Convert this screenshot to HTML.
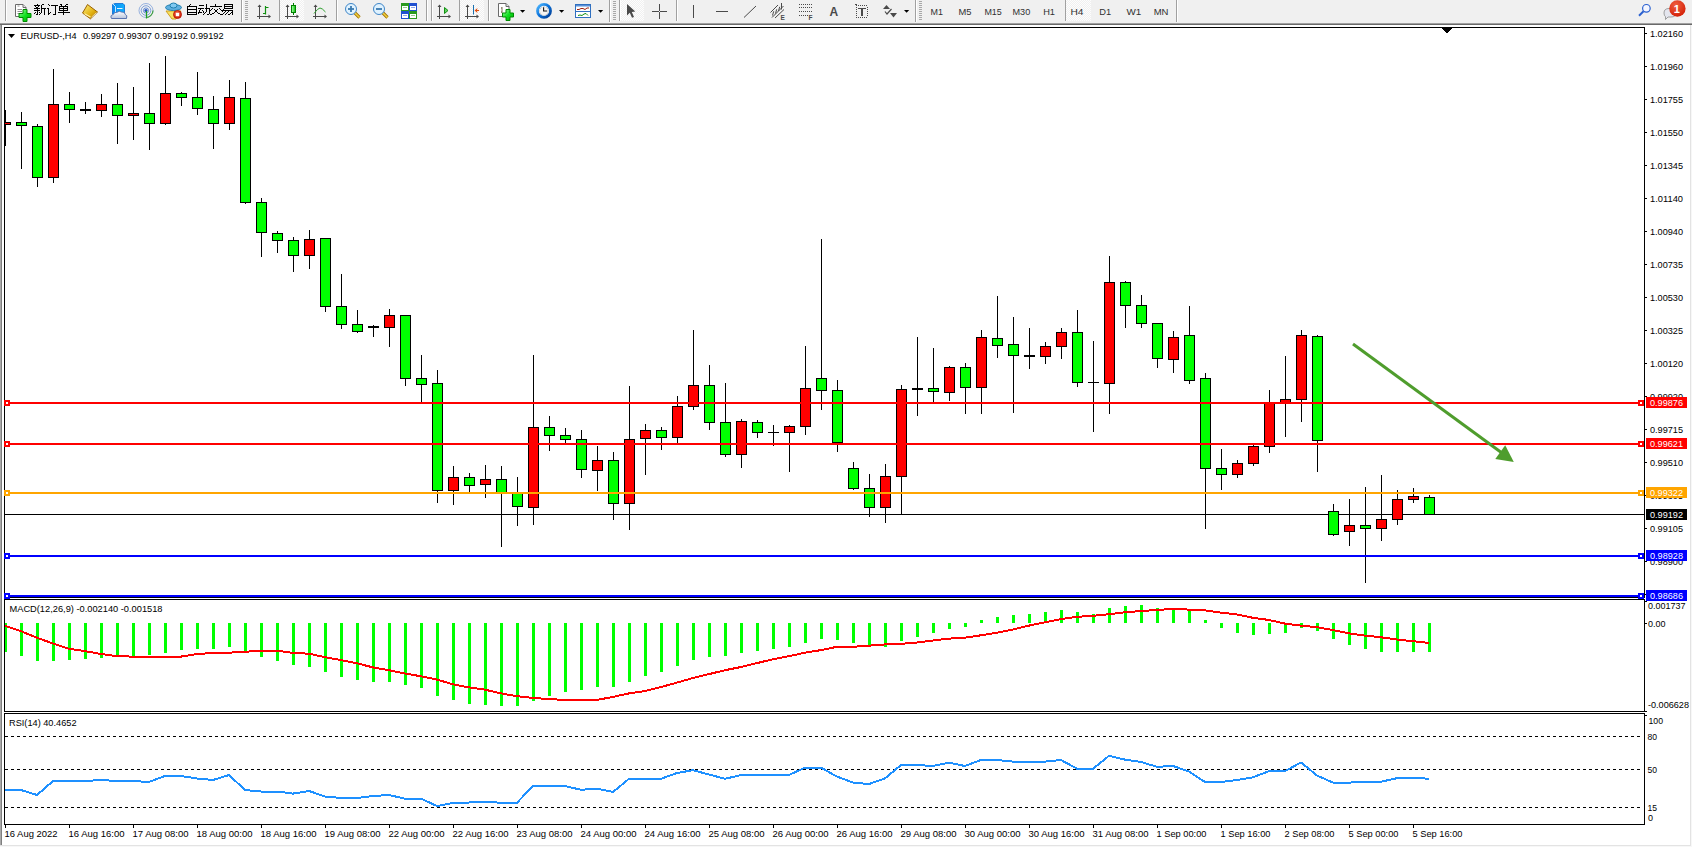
<!DOCTYPE html>
<html><head><meta charset="utf-8"><style>
html,body{margin:0;padding:0;background:#fff;width:1692px;height:847px;overflow:hidden}
svg{display:block}
text{font-family:"Liberation Sans",sans-serif}
</style></head><body>
<svg width="1692" height="847" viewBox="0 0 1692 847" shape-rendering="crispEdges">
<rect x="0" y="0" width="1692" height="23" fill="#f0f0f0"/>
<rect x="0" y="23" width="1692" height="1" fill="#a0a0a0"/>
<rect x="0" y="24" width="1692" height="1" fill="#696969"/>
<rect x="1645" y="33" width="2" height="1" fill="#000"/>
<text x="1650" y="37" font-size="9.9" fill="#000" textLength="33" lengthAdjust="spacingAndGlyphs">1.02160</text>
<rect x="1645" y="66" width="2" height="1" fill="#000"/>
<text x="1650" y="70" font-size="9.9" fill="#000" textLength="33" lengthAdjust="spacingAndGlyphs">1.01960</text>
<rect x="1645" y="99" width="2" height="1" fill="#000"/>
<text x="1650" y="103" font-size="9.9" fill="#000" textLength="33" lengthAdjust="spacingAndGlyphs">1.01755</text>
<rect x="1645" y="132" width="2" height="1" fill="#000"/>
<text x="1650" y="136" font-size="9.9" fill="#000" textLength="33" lengthAdjust="spacingAndGlyphs">1.01550</text>
<rect x="1645" y="165" width="2" height="1" fill="#000"/>
<text x="1650" y="169" font-size="9.9" fill="#000" textLength="33" lengthAdjust="spacingAndGlyphs">1.01345</text>
<rect x="1645" y="198" width="2" height="1" fill="#000"/>
<text x="1650" y="202" font-size="9.9" fill="#000" textLength="33" lengthAdjust="spacingAndGlyphs">1.01140</text>
<rect x="1645" y="231" width="2" height="1" fill="#000"/>
<text x="1650" y="235" font-size="9.9" fill="#000" textLength="33" lengthAdjust="spacingAndGlyphs">1.00940</text>
<rect x="1645" y="264" width="2" height="1" fill="#000"/>
<text x="1650" y="268" font-size="9.9" fill="#000" textLength="33" lengthAdjust="spacingAndGlyphs">1.00735</text>
<rect x="1645" y="297" width="2" height="1" fill="#000"/>
<text x="1650" y="301" font-size="9.9" fill="#000" textLength="33" lengthAdjust="spacingAndGlyphs">1.00530</text>
<rect x="1645" y="330" width="2" height="1" fill="#000"/>
<text x="1650" y="334" font-size="9.9" fill="#000" textLength="33" lengthAdjust="spacingAndGlyphs">1.00325</text>
<rect x="1645" y="363" width="2" height="1" fill="#000"/>
<text x="1650" y="367" font-size="9.9" fill="#000" textLength="33" lengthAdjust="spacingAndGlyphs">1.00120</text>
<rect x="1645" y="396" width="2" height="1" fill="#000"/>
<text x="1650" y="400" font-size="9.9" fill="#000" textLength="33" lengthAdjust="spacingAndGlyphs">0.99920</text>
<rect x="1645" y="429" width="2" height="1" fill="#000"/>
<text x="1650" y="433" font-size="9.9" fill="#000" textLength="33" lengthAdjust="spacingAndGlyphs">0.99715</text>
<rect x="1645" y="462" width="2" height="1" fill="#000"/>
<text x="1650" y="466" font-size="9.9" fill="#000" textLength="33" lengthAdjust="spacingAndGlyphs">0.99510</text>
<rect x="1645" y="495" width="2" height="1" fill="#000"/>
<text x="1650" y="499" font-size="9.9" fill="#000" textLength="33" lengthAdjust="spacingAndGlyphs">0.99305</text>
<rect x="1645" y="528" width="2" height="1" fill="#000"/>
<text x="1650" y="532" font-size="9.9" fill="#000" textLength="33" lengthAdjust="spacingAndGlyphs">0.99105</text>
<rect x="1645" y="561" width="2" height="1" fill="#000"/>
<text x="1650" y="565" font-size="9.9" fill="#000" textLength="33" lengthAdjust="spacingAndGlyphs">0.98900</text>
<rect x="1645" y="594" width="2" height="1" fill="#000"/>
<text x="1650" y="598" font-size="9.9" fill="#000" textLength="33" lengthAdjust="spacingAndGlyphs">0.98695</text>
<rect x="5" y="514" width="1639" height="1" fill="#000"/>
<g>
<rect x="5" y="110" width="1" height="36" fill="#000"/>
<rect x="0" y="122" width="11" height="3" fill="#000"/>
<rect x="1" y="123" width="9" height="1" fill="#ff0000"/>
<rect x="21" y="112" width="1" height="57" fill="#000"/>
<rect x="16" y="122" width="11" height="4" fill="#000"/>
<rect x="17" y="123" width="9" height="2" fill="#00ff00"/>
<rect x="37" y="124" width="1" height="63" fill="#000"/>
<rect x="32" y="126" width="11" height="52" fill="#000"/>
<rect x="33" y="127" width="9" height="50" fill="#00ff00"/>
<rect x="53" y="69" width="1" height="114" fill="#000"/>
<rect x="48" y="104" width="11" height="74" fill="#000"/>
<rect x="49" y="105" width="9" height="72" fill="#ff0000"/>
<rect x="69" y="92" width="1" height="31" fill="#000"/>
<rect x="64" y="104" width="11" height="6" fill="#000"/>
<rect x="65" y="105" width="9" height="4" fill="#00ff00"/>
<rect x="85" y="102" width="1" height="12" fill="#000"/>
<rect x="80" y="109" width="11" height="2" fill="#000"/>
<rect x="101" y="94" width="1" height="23" fill="#000"/>
<rect x="96" y="104" width="11" height="7" fill="#000"/>
<rect x="97" y="105" width="9" height="5" fill="#ff0000"/>
<rect x="117" y="83" width="1" height="61" fill="#000"/>
<rect x="112" y="104" width="11" height="12" fill="#000"/>
<rect x="113" y="105" width="9" height="10" fill="#00ff00"/>
<rect x="133" y="87" width="1" height="53" fill="#000"/>
<rect x="128" y="113" width="11" height="3" fill="#000"/>
<rect x="129" y="114" width="9" height="1" fill="#ff0000"/>
<rect x="149" y="63" width="1" height="87" fill="#000"/>
<rect x="144" y="113" width="11" height="11" fill="#000"/>
<rect x="145" y="114" width="9" height="9" fill="#00ff00"/>
<rect x="165" y="56" width="1" height="69" fill="#000"/>
<rect x="160" y="93" width="11" height="31" fill="#000"/>
<rect x="161" y="94" width="9" height="29" fill="#ff0000"/>
<rect x="181" y="92" width="1" height="14" fill="#000"/>
<rect x="176" y="93" width="11" height="5" fill="#000"/>
<rect x="177" y="94" width="9" height="3" fill="#00ff00"/>
<rect x="197" y="72" width="1" height="43" fill="#000"/>
<rect x="192" y="97" width="11" height="12" fill="#000"/>
<rect x="193" y="98" width="9" height="10" fill="#00ff00"/>
<rect x="213" y="96" width="1" height="53" fill="#000"/>
<rect x="208" y="109" width="11" height="15" fill="#000"/>
<rect x="209" y="110" width="9" height="13" fill="#00ff00"/>
<rect x="229" y="80" width="1" height="50" fill="#000"/>
<rect x="224" y="97" width="11" height="27" fill="#000"/>
<rect x="225" y="98" width="9" height="25" fill="#ff0000"/>
<rect x="245" y="82" width="1" height="122" fill="#000"/>
<rect x="240" y="98" width="11" height="105" fill="#000"/>
<rect x="241" y="99" width="9" height="103" fill="#00ff00"/>
<rect x="261" y="198" width="1" height="59" fill="#000"/>
<rect x="256" y="202" width="11" height="31" fill="#000"/>
<rect x="257" y="203" width="9" height="29" fill="#00ff00"/>
<rect x="277" y="231" width="1" height="22" fill="#000"/>
<rect x="272" y="233" width="11" height="8" fill="#000"/>
<rect x="273" y="234" width="9" height="6" fill="#00ff00"/>
<rect x="293" y="237" width="1" height="35" fill="#000"/>
<rect x="288" y="240" width="11" height="16" fill="#000"/>
<rect x="289" y="241" width="9" height="14" fill="#00ff00"/>
<rect x="309" y="230" width="1" height="39" fill="#000"/>
<rect x="304" y="239" width="11" height="17" fill="#000"/>
<rect x="305" y="240" width="9" height="15" fill="#ff0000"/>
<rect x="325" y="238" width="1" height="74" fill="#000"/>
<rect x="320" y="238" width="11" height="69" fill="#000"/>
<rect x="321" y="239" width="9" height="67" fill="#00ff00"/>
<rect x="341" y="274" width="1" height="55" fill="#000"/>
<rect x="336" y="306" width="11" height="19" fill="#000"/>
<rect x="337" y="307" width="9" height="17" fill="#00ff00"/>
<rect x="357" y="310" width="1" height="23" fill="#000"/>
<rect x="352" y="324" width="11" height="8" fill="#000"/>
<rect x="353" y="325" width="9" height="6" fill="#00ff00"/>
<rect x="373" y="325" width="1" height="12" fill="#000"/>
<rect x="368" y="326" width="11" height="2" fill="#000"/>
<rect x="389" y="309" width="1" height="38" fill="#000"/>
<rect x="384" y="315" width="11" height="13" fill="#000"/>
<rect x="385" y="316" width="9" height="11" fill="#ff0000"/>
<rect x="405" y="315" width="1" height="71" fill="#000"/>
<rect x="400" y="315" width="11" height="64" fill="#000"/>
<rect x="401" y="316" width="9" height="62" fill="#00ff00"/>
<rect x="421" y="355" width="1" height="47" fill="#000"/>
<rect x="416" y="378" width="11" height="7" fill="#000"/>
<rect x="417" y="379" width="9" height="5" fill="#00ff00"/>
<rect x="437" y="370" width="1" height="133" fill="#000"/>
<rect x="432" y="383" width="11" height="108" fill="#000"/>
<rect x="433" y="384" width="9" height="106" fill="#00ff00"/>
<rect x="453" y="466" width="1" height="39" fill="#000"/>
<rect x="448" y="477" width="11" height="14" fill="#000"/>
<rect x="449" y="478" width="9" height="12" fill="#ff0000"/>
<rect x="469" y="473" width="1" height="19" fill="#000"/>
<rect x="464" y="477" width="11" height="9" fill="#000"/>
<rect x="465" y="478" width="9" height="7" fill="#00ff00"/>
<rect x="485" y="465" width="1" height="33" fill="#000"/>
<rect x="480" y="479" width="11" height="6" fill="#000"/>
<rect x="481" y="480" width="9" height="4" fill="#ff0000"/>
<rect x="501" y="466" width="1" height="81" fill="#000"/>
<rect x="496" y="479" width="11" height="14" fill="#000"/>
<rect x="497" y="480" width="9" height="12" fill="#00ff00"/>
<rect x="517" y="477" width="1" height="49" fill="#000"/>
<rect x="512" y="493" width="11" height="14" fill="#000"/>
<rect x="513" y="494" width="9" height="12" fill="#00ff00"/>
<rect x="533" y="355" width="1" height="170" fill="#000"/>
<rect x="528" y="427" width="11" height="81" fill="#000"/>
<rect x="529" y="428" width="9" height="79" fill="#ff0000"/>
<rect x="549" y="416" width="1" height="35" fill="#000"/>
<rect x="544" y="427" width="11" height="9" fill="#000"/>
<rect x="545" y="428" width="9" height="7" fill="#00ff00"/>
<rect x="565" y="428" width="1" height="15" fill="#000"/>
<rect x="560" y="435" width="11" height="5" fill="#000"/>
<rect x="561" y="436" width="9" height="3" fill="#00ff00"/>
<rect x="581" y="430" width="1" height="48" fill="#000"/>
<rect x="576" y="439" width="11" height="31" fill="#000"/>
<rect x="577" y="440" width="9" height="29" fill="#00ff00"/>
<rect x="597" y="446" width="1" height="45" fill="#000"/>
<rect x="592" y="460" width="11" height="11" fill="#000"/>
<rect x="593" y="461" width="9" height="9" fill="#ff0000"/>
<rect x="613" y="452" width="1" height="68" fill="#000"/>
<rect x="608" y="460" width="11" height="44" fill="#000"/>
<rect x="609" y="461" width="9" height="42" fill="#00ff00"/>
<rect x="629" y="386" width="1" height="144" fill="#000"/>
<rect x="624" y="439" width="11" height="65" fill="#000"/>
<rect x="625" y="440" width="9" height="63" fill="#ff0000"/>
<rect x="645" y="424" width="1" height="51" fill="#000"/>
<rect x="640" y="430" width="11" height="9" fill="#000"/>
<rect x="641" y="431" width="9" height="7" fill="#ff0000"/>
<rect x="661" y="427" width="1" height="23" fill="#000"/>
<rect x="656" y="430" width="11" height="8" fill="#000"/>
<rect x="657" y="431" width="9" height="6" fill="#00ff00"/>
<rect x="677" y="396" width="1" height="47" fill="#000"/>
<rect x="672" y="406" width="11" height="32" fill="#000"/>
<rect x="673" y="407" width="9" height="30" fill="#ff0000"/>
<rect x="693" y="330" width="1" height="80" fill="#000"/>
<rect x="688" y="385" width="11" height="22" fill="#000"/>
<rect x="689" y="386" width="9" height="20" fill="#ff0000"/>
<rect x="709" y="365" width="1" height="65" fill="#000"/>
<rect x="704" y="385" width="11" height="38" fill="#000"/>
<rect x="705" y="386" width="9" height="36" fill="#00ff00"/>
<rect x="725" y="383" width="1" height="74" fill="#000"/>
<rect x="720" y="422" width="11" height="33" fill="#000"/>
<rect x="721" y="423" width="9" height="31" fill="#00ff00"/>
<rect x="741" y="419" width="1" height="49" fill="#000"/>
<rect x="736" y="421" width="11" height="34" fill="#000"/>
<rect x="737" y="422" width="9" height="32" fill="#ff0000"/>
<rect x="757" y="420" width="1" height="18" fill="#000"/>
<rect x="752" y="422" width="11" height="11" fill="#000"/>
<rect x="753" y="423" width="9" height="9" fill="#00ff00"/>
<rect x="773" y="425" width="1" height="21" fill="#000"/>
<rect x="768" y="432" width="11" height="1" fill="#000"/>
<rect x="789" y="425" width="1" height="47" fill="#000"/>
<rect x="784" y="426" width="11" height="7" fill="#000"/>
<rect x="785" y="427" width="9" height="5" fill="#ff0000"/>
<rect x="805" y="346" width="1" height="89" fill="#000"/>
<rect x="800" y="388" width="11" height="39" fill="#000"/>
<rect x="801" y="389" width="9" height="37" fill="#ff0000"/>
<rect x="821" y="239" width="1" height="171" fill="#000"/>
<rect x="816" y="378" width="11" height="13" fill="#000"/>
<rect x="817" y="379" width="9" height="11" fill="#00ff00"/>
<rect x="837" y="380" width="1" height="72" fill="#000"/>
<rect x="832" y="390" width="11" height="53" fill="#000"/>
<rect x="833" y="391" width="9" height="51" fill="#00ff00"/>
<rect x="853" y="462" width="1" height="28" fill="#000"/>
<rect x="848" y="468" width="11" height="21" fill="#000"/>
<rect x="849" y="469" width="9" height="19" fill="#00ff00"/>
<rect x="869" y="474" width="1" height="43" fill="#000"/>
<rect x="864" y="488" width="11" height="20" fill="#000"/>
<rect x="865" y="489" width="9" height="18" fill="#00ff00"/>
<rect x="885" y="464" width="1" height="59" fill="#000"/>
<rect x="880" y="476" width="11" height="32" fill="#000"/>
<rect x="881" y="477" width="9" height="30" fill="#ff0000"/>
<rect x="901" y="385" width="1" height="129" fill="#000"/>
<rect x="896" y="389" width="11" height="88" fill="#000"/>
<rect x="897" y="390" width="9" height="86" fill="#ff0000"/>
<rect x="917" y="337" width="1" height="79" fill="#000"/>
<rect x="912" y="388" width="11" height="2" fill="#000"/>
<rect x="933" y="348" width="1" height="54" fill="#000"/>
<rect x="928" y="388" width="11" height="4" fill="#000"/>
<rect x="929" y="389" width="9" height="2" fill="#00ff00"/>
<rect x="949" y="366" width="1" height="35" fill="#000"/>
<rect x="944" y="367" width="11" height="26" fill="#000"/>
<rect x="945" y="368" width="9" height="24" fill="#ff0000"/>
<rect x="965" y="363" width="1" height="51" fill="#000"/>
<rect x="960" y="367" width="11" height="21" fill="#000"/>
<rect x="961" y="368" width="9" height="19" fill="#00ff00"/>
<rect x="981" y="330" width="1" height="84" fill="#000"/>
<rect x="976" y="337" width="11" height="51" fill="#000"/>
<rect x="977" y="338" width="9" height="49" fill="#ff0000"/>
<rect x="997" y="296" width="1" height="62" fill="#000"/>
<rect x="992" y="338" width="11" height="8" fill="#000"/>
<rect x="993" y="339" width="9" height="6" fill="#00ff00"/>
<rect x="1013" y="317" width="1" height="96" fill="#000"/>
<rect x="1008" y="344" width="11" height="12" fill="#000"/>
<rect x="1009" y="345" width="9" height="10" fill="#00ff00"/>
<rect x="1029" y="328" width="1" height="41" fill="#000"/>
<rect x="1024" y="355" width="11" height="2" fill="#000"/>
<rect x="1045" y="342" width="1" height="22" fill="#000"/>
<rect x="1040" y="346" width="11" height="11" fill="#000"/>
<rect x="1041" y="347" width="9" height="9" fill="#ff0000"/>
<rect x="1061" y="328" width="1" height="31" fill="#000"/>
<rect x="1056" y="332" width="11" height="15" fill="#000"/>
<rect x="1057" y="333" width="9" height="13" fill="#ff0000"/>
<rect x="1077" y="310" width="1" height="77" fill="#000"/>
<rect x="1072" y="332" width="11" height="51" fill="#000"/>
<rect x="1073" y="333" width="9" height="49" fill="#00ff00"/>
<rect x="1093" y="341" width="1" height="91" fill="#000"/>
<rect x="1088" y="382" width="11" height="1" fill="#000"/>
<rect x="1109" y="256" width="1" height="158" fill="#000"/>
<rect x="1104" y="282" width="11" height="102" fill="#000"/>
<rect x="1105" y="283" width="9" height="100" fill="#ff0000"/>
<rect x="1125" y="281" width="1" height="47" fill="#000"/>
<rect x="1120" y="282" width="11" height="24" fill="#000"/>
<rect x="1121" y="283" width="9" height="22" fill="#00ff00"/>
<rect x="1141" y="295" width="1" height="33" fill="#000"/>
<rect x="1136" y="305" width="11" height="19" fill="#000"/>
<rect x="1137" y="306" width="9" height="17" fill="#00ff00"/>
<rect x="1157" y="323" width="1" height="45" fill="#000"/>
<rect x="1152" y="323" width="11" height="36" fill="#000"/>
<rect x="1153" y="324" width="9" height="34" fill="#00ff00"/>
<rect x="1173" y="331" width="1" height="42" fill="#000"/>
<rect x="1168" y="337" width="11" height="23" fill="#000"/>
<rect x="1169" y="338" width="9" height="21" fill="#ff0000"/>
<rect x="1189" y="306" width="1" height="78" fill="#000"/>
<rect x="1184" y="335" width="11" height="46" fill="#000"/>
<rect x="1185" y="336" width="9" height="44" fill="#00ff00"/>
<rect x="1205" y="373" width="1" height="156" fill="#000"/>
<rect x="1200" y="378" width="11" height="91" fill="#000"/>
<rect x="1201" y="379" width="9" height="89" fill="#00ff00"/>
<rect x="1221" y="449" width="1" height="41" fill="#000"/>
<rect x="1216" y="468" width="11" height="7" fill="#000"/>
<rect x="1217" y="469" width="9" height="5" fill="#00ff00"/>
<rect x="1237" y="460" width="1" height="18" fill="#000"/>
<rect x="1232" y="463" width="11" height="12" fill="#000"/>
<rect x="1233" y="464" width="9" height="10" fill="#ff0000"/>
<rect x="1253" y="445" width="1" height="21" fill="#000"/>
<rect x="1248" y="446" width="11" height="18" fill="#000"/>
<rect x="1249" y="447" width="9" height="16" fill="#ff0000"/>
<rect x="1269" y="390" width="1" height="63" fill="#000"/>
<rect x="1264" y="403" width="11" height="44" fill="#000"/>
<rect x="1265" y="404" width="9" height="42" fill="#ff0000"/>
<rect x="1285" y="356" width="1" height="81" fill="#000"/>
<rect x="1280" y="399" width="11" height="4" fill="#000"/>
<rect x="1281" y="400" width="9" height="2" fill="#ff0000"/>
<rect x="1301" y="330" width="1" height="92" fill="#000"/>
<rect x="1296" y="335" width="11" height="65" fill="#000"/>
<rect x="1297" y="336" width="9" height="63" fill="#ff0000"/>
<rect x="1317" y="335" width="1" height="137" fill="#000"/>
<rect x="1312" y="336" width="11" height="105" fill="#000"/>
<rect x="1313" y="337" width="9" height="103" fill="#00ff00"/>
<rect x="1333" y="504" width="1" height="32" fill="#000"/>
<rect x="1328" y="511" width="11" height="24" fill="#000"/>
<rect x="1329" y="512" width="9" height="22" fill="#00ff00"/>
<rect x="1349" y="499" width="1" height="47" fill="#000"/>
<rect x="1344" y="525" width="11" height="7" fill="#000"/>
<rect x="1345" y="526" width="9" height="5" fill="#ff0000"/>
<rect x="1365" y="487" width="1" height="96" fill="#000"/>
<rect x="1360" y="525" width="11" height="4" fill="#000"/>
<rect x="1361" y="526" width="9" height="2" fill="#00ff00"/>
<rect x="1381" y="475" width="1" height="66" fill="#000"/>
<rect x="1376" y="519" width="11" height="10" fill="#000"/>
<rect x="1377" y="520" width="9" height="8" fill="#ff0000"/>
<rect x="1397" y="490" width="1" height="35" fill="#000"/>
<rect x="1392" y="499" width="11" height="21" fill="#000"/>
<rect x="1393" y="500" width="9" height="19" fill="#ff0000"/>
<rect x="1413" y="488" width="1" height="15" fill="#000"/>
<rect x="1408" y="496" width="11" height="4" fill="#000"/>
<rect x="1409" y="497" width="9" height="2" fill="#ff0000"/>
<rect x="1429" y="495" width="1" height="19" fill="#000"/>
<rect x="1424" y="497" width="11" height="18" fill="#000"/>
<rect x="1425" y="498" width="9" height="16" fill="#00ff00"/>
</g>
<rect x="4" y="623" width="3" height="29" fill="#00ff00"/>
<rect x="20" y="623" width="3" height="33" fill="#00ff00"/>
<rect x="36" y="623" width="3" height="38" fill="#00ff00"/>
<rect x="52" y="623" width="3" height="38" fill="#00ff00"/>
<rect x="68" y="623" width="3" height="37" fill="#00ff00"/>
<rect x="84" y="623" width="3" height="36" fill="#00ff00"/>
<rect x="100" y="623" width="3" height="35" fill="#00ff00"/>
<rect x="116" y="623" width="3" height="33" fill="#00ff00"/>
<rect x="132" y="623" width="3" height="33" fill="#00ff00"/>
<rect x="148" y="623" width="3" height="32" fill="#00ff00"/>
<rect x="164" y="623" width="3" height="30" fill="#00ff00"/>
<rect x="180" y="623" width="3" height="27" fill="#00ff00"/>
<rect x="196" y="623" width="3" height="26" fill="#00ff00"/>
<rect x="212" y="623" width="3" height="26" fill="#00ff00"/>
<rect x="228" y="623" width="3" height="24" fill="#00ff00"/>
<rect x="244" y="623" width="3" height="28" fill="#00ff00"/>
<rect x="260" y="623" width="3" height="34" fill="#00ff00"/>
<rect x="276" y="623" width="3" height="38" fill="#00ff00"/>
<rect x="292" y="623" width="3" height="42" fill="#00ff00"/>
<rect x="308" y="623" width="3" height="44" fill="#00ff00"/>
<rect x="324" y="623" width="3" height="49" fill="#00ff00"/>
<rect x="340" y="623" width="3" height="54" fill="#00ff00"/>
<rect x="356" y="623" width="3" height="57" fill="#00ff00"/>
<rect x="372" y="623" width="3" height="59" fill="#00ff00"/>
<rect x="388" y="623" width="3" height="59" fill="#00ff00"/>
<rect x="404" y="623" width="3" height="62" fill="#00ff00"/>
<rect x="420" y="623" width="3" height="65" fill="#00ff00"/>
<rect x="436" y="623" width="3" height="73" fill="#00ff00"/>
<rect x="452" y="623" width="3" height="77" fill="#00ff00"/>
<rect x="468" y="623" width="3" height="81" fill="#00ff00"/>
<rect x="484" y="623" width="3" height="82" fill="#00ff00"/>
<rect x="500" y="623" width="3" height="83" fill="#00ff00"/>
<rect x="516" y="623" width="3" height="83" fill="#00ff00"/>
<rect x="532" y="623" width="3" height="78" fill="#00ff00"/>
<rect x="548" y="623" width="3" height="73" fill="#00ff00"/>
<rect x="564" y="623" width="3" height="69" fill="#00ff00"/>
<rect x="580" y="623" width="3" height="67" fill="#00ff00"/>
<rect x="596" y="623" width="3" height="64" fill="#00ff00"/>
<rect x="612" y="623" width="3" height="64" fill="#00ff00"/>
<rect x="628" y="623" width="3" height="59" fill="#00ff00"/>
<rect x="644" y="623" width="3" height="53" fill="#00ff00"/>
<rect x="660" y="623" width="3" height="49" fill="#00ff00"/>
<rect x="676" y="623" width="3" height="43" fill="#00ff00"/>
<rect x="692" y="623" width="3" height="37" fill="#00ff00"/>
<rect x="708" y="623" width="3" height="34" fill="#00ff00"/>
<rect x="724" y="623" width="3" height="33" fill="#00ff00"/>
<rect x="740" y="623" width="3" height="30" fill="#00ff00"/>
<rect x="756" y="623" width="3" height="28" fill="#00ff00"/>
<rect x="772" y="623" width="3" height="26" fill="#00ff00"/>
<rect x="788" y="623" width="3" height="24" fill="#00ff00"/>
<rect x="804" y="623" width="3" height="20" fill="#00ff00"/>
<rect x="820" y="623" width="3" height="16" fill="#00ff00"/>
<rect x="836" y="623" width="3" height="17" fill="#00ff00"/>
<rect x="852" y="623" width="3" height="20" fill="#00ff00"/>
<rect x="868" y="623" width="3" height="22" fill="#00ff00"/>
<rect x="884" y="623" width="3" height="24" fill="#00ff00"/>
<rect x="900" y="623" width="3" height="18" fill="#00ff00"/>
<rect x="916" y="623" width="3" height="14" fill="#00ff00"/>
<rect x="932" y="623" width="3" height="10" fill="#00ff00"/>
<rect x="948" y="623" width="3" height="6" fill="#00ff00"/>
<rect x="964" y="623" width="3" height="4" fill="#00ff00"/>
<rect x="980" y="620" width="3" height="3" fill="#00ff00"/>
<rect x="996" y="617" width="3" height="6" fill="#00ff00"/>
<rect x="1012" y="615" width="3" height="8" fill="#00ff00"/>
<rect x="1028" y="614" width="3" height="9" fill="#00ff00"/>
<rect x="1044" y="612" width="3" height="11" fill="#00ff00"/>
<rect x="1060" y="610" width="3" height="13" fill="#00ff00"/>
<rect x="1076" y="612" width="3" height="11" fill="#00ff00"/>
<rect x="1092" y="614" width="3" height="9" fill="#00ff00"/>
<rect x="1108" y="608" width="3" height="15" fill="#00ff00"/>
<rect x="1124" y="606" width="3" height="17" fill="#00ff00"/>
<rect x="1140" y="605" width="3" height="18" fill="#00ff00"/>
<rect x="1156" y="608" width="3" height="15" fill="#00ff00"/>
<rect x="1172" y="608" width="3" height="15" fill="#00ff00"/>
<rect x="1188" y="611" width="3" height="12" fill="#00ff00"/>
<rect x="1204" y="620" width="3" height="3" fill="#00ff00"/>
<rect x="1220" y="623" width="3" height="5" fill="#00ff00"/>
<rect x="1236" y="623" width="3" height="10" fill="#00ff00"/>
<rect x="1252" y="623" width="3" height="12" fill="#00ff00"/>
<rect x="1268" y="623" width="3" height="11" fill="#00ff00"/>
<rect x="1284" y="623" width="3" height="10" fill="#00ff00"/>
<rect x="1300" y="623" width="3" height="5" fill="#00ff00"/>
<rect x="1316" y="623" width="3" height="8" fill="#00ff00"/>
<rect x="1332" y="623" width="3" height="16" fill="#00ff00"/>
<rect x="1348" y="623" width="3" height="22" fill="#00ff00"/>
<rect x="1364" y="623" width="3" height="26" fill="#00ff00"/>
<rect x="1380" y="623" width="3" height="29" fill="#00ff00"/>
<rect x="1396" y="623" width="3" height="29" fill="#00ff00"/>
<rect x="1412" y="623" width="3" height="29" fill="#00ff00"/>
<rect x="1428" y="623" width="3" height="29" fill="#00ff00"/>
<polyline points="5,625.7 21,631.2 37,637.7 53,643.6 69,648.8 85,651.1 101,654 117,656.2 133,656.6 149,656.6 165,656.6 181,656.6 197,654 213,653 229,652.7 245,651.8 261,650.7 277,650.7 293,652.9 309,653.7 325,657.2 341,660.1 357,663.3 373,667.4 389,670.2 405,673.5 421,676.3 437,679.6 453,684.3 469,687.4 485,689.7 501,693.4 517,696.2 533,697.9 549,699.1 565,699.9 581,699.9 597,699.9 613,696.9 629,693.4 645,691 661,687.1 677,682.6 693,678 709,674.1 725,670.2 741,667 757,663.1 773,659.2 789,656.2 805,652.7 821,650.1 837,646.8 853,646.8 869,645.7 885,644.4 901,643.8 917,642.5 933,640.5 949,638.6 965,637.7 981,635.3 997,632.7 1013,629.5 1029,625.6 1045,622.3 1061,619.1 1077,616.8 1093,615.8 1109,614.2 1125,612.3 1141,611 1157,610 1173,608.9 1189,609.6 1205,610.3 1221,612.6 1237,614.5 1253,617.8 1269,620 1285,623.6 1301,625.6 1317,627.2 1333,630.1 1349,633.4 1365,635.6 1381,637.3 1397,639.5 1413,641.2 1429,642.9" fill="none" stroke="#ff0000" stroke-width="2" shape-rendering="crispEdges"/>
<text x="9.5" y="612" font-size="9.9" fill="#000" textLength="153" lengthAdjust="spacingAndGlyphs">MACD(12,26,9) -0.002140 -0.001518</text>
<rect x="1645" y="601" width="2" height="1" fill="#000"/>
<text x="1648" y="609.2" font-size="9.9" fill="#000" textLength="37.5" lengthAdjust="spacingAndGlyphs">0.001737</text>
<rect x="1645" y="623" width="2" height="1" fill="#000"/>
<text x="1648" y="626.7" font-size="9.9" fill="#000" textLength="17.5" lengthAdjust="spacingAndGlyphs">0.00</text>
<rect x="1645" y="711" width="2" height="1" fill="#000"/>
<text x="1648" y="708" font-size="9.9" fill="#000" textLength="41" lengthAdjust="spacingAndGlyphs">-0.006628</text>
<line x1="5" y1="736.5" x2="1643" y2="736.5" stroke="#000" stroke-width="1" stroke-dasharray="3,3" shape-rendering="crispEdges"/>
<line x1="5" y1="769.5" x2="1643" y2="769.5" stroke="#000" stroke-width="1" stroke-dasharray="3,3" shape-rendering="crispEdges"/>
<line x1="5" y1="807.5" x2="1643" y2="807.5" stroke="#000" stroke-width="1" stroke-dasharray="3,3" shape-rendering="crispEdges"/>
<polyline points="5,790 21,790 37,795 53,781 69,781 85,781 101,780 117,781 133,781 149,782 165,776 181,776 197,778.5 213,780 229,775 245,790 261,791.5 277,791.5 293,793.6 309,791 325,796.5 341,798 357,798 373,796 389,795 405,798.7 421,798.7 437,806 453,803 469,802.5 485,802 501,802.7 517,802.7 533,786 549,786 565,786 581,789.8 597,788.6 613,792 629,778.8 645,778.8 661,778.8 677,773 693,770.2 709,774.5 725,778.8 741,775 757,775 773,775 789,775 805,767.7 821,767.7 837,776.6 853,782.6 869,784 885,778.4 901,765 917,765 933,766 949,762.7 965,766 981,760 997,760 1013,761.6 1029,761.6 1045,761.6 1061,760 1077,768.7 1093,768.7 1109,755.8 1125,759.6 1141,762 1157,766.8 1173,766 1189,771.5 1205,782 1221,782 1237,780 1253,777.3 1269,771.1 1285,771.1 1301,762.4 1317,775.5 1333,782.6 1349,782.6 1365,781.7 1381,781.7 1397,778.2 1413,778 1429,778.7" fill="none" stroke="#1e90ff" stroke-width="2" shape-rendering="crispEdges"/>
<text x="9" y="726" font-size="9.9" fill="#000" textLength="67.5" lengthAdjust="spacingAndGlyphs">RSI(14) 40.4652</text>
<rect x="1645" y="715" width="2" height="1" fill="#000"/>
<text x="1648.5" y="724" font-size="9.9" fill="#000" textLength="14.5" lengthAdjust="spacingAndGlyphs">100</text>
<text x="1647.5" y="739.5" font-size="9.9" fill="#000" textLength="9.5" lengthAdjust="spacingAndGlyphs">80</text>
<text x="1647.5" y="772.5" font-size="9.9" fill="#000" textLength="9.5" lengthAdjust="spacingAndGlyphs">50</text>
<text x="1647.5" y="810.5" font-size="9.9" fill="#000" textLength="9.5" lengthAdjust="spacingAndGlyphs">15</text>
<text x="1648" y="820.5" font-size="9.9" fill="#000" textLength="5" lengthAdjust="spacingAndGlyphs">0</text>
<rect x="0" y="25" width="4" height="800" fill="#fff"/>
<rect x="4" y="27" width="1641" height="1" fill="#000"/>
<rect x="4" y="597" width="1641" height="1" fill="#000"/>
<rect x="4" y="27" width="1" height="571" fill="#000"/>
<rect x="1644" y="27" width="1" height="571" fill="#000"/>
<rect x="4" y="599" width="1641" height="1" fill="#000"/>
<rect x="4" y="711" width="1641" height="1" fill="#000"/>
<rect x="4" y="599" width="1" height="113" fill="#000"/>
<rect x="1644" y="599" width="1" height="113" fill="#000"/>
<rect x="4" y="713" width="1641" height="1" fill="#000"/>
<rect x="4" y="824" width="1641" height="1" fill="#000"/>
<rect x="4" y="713" width="1" height="112" fill="#000"/>
<rect x="1644" y="713" width="1" height="112" fill="#000"/>
<rect x="1646" y="509" width="41" height="11" fill="#000"/>
<text x="1650" y="518" font-size="9.9" fill="#fff" textLength="33" lengthAdjust="spacingAndGlyphs">0.99192</text>
<rect x="5" y="402" width="1639" height="2" fill="#ff0000"/>
<rect x="4" y="400" width="6" height="6" fill="#ff0000"/>
<rect x="6" y="402" width="2" height="2" fill="#fff"/>
<rect x="1638" y="400" width="6" height="6" fill="#ff0000"/>
<rect x="1640" y="402" width="2" height="2" fill="#fff"/>
<rect x="1646" y="397" width="41" height="11" fill="#ff0000"/>
<text x="1650" y="406" font-size="9.9" fill="#fff" textLength="33" lengthAdjust="spacingAndGlyphs">0.99876</text>
<rect x="5" y="443" width="1639" height="2" fill="#ff0000"/>
<rect x="4" y="441" width="6" height="6" fill="#ff0000"/>
<rect x="6" y="443" width="2" height="2" fill="#fff"/>
<rect x="1638" y="441" width="6" height="6" fill="#ff0000"/>
<rect x="1640" y="443" width="2" height="2" fill="#fff"/>
<rect x="1646" y="438" width="41" height="11" fill="#ff0000"/>
<text x="1650" y="447" font-size="9.9" fill="#fff" textLength="33" lengthAdjust="spacingAndGlyphs">0.99621</text>
<rect x="5" y="492" width="1639" height="2" fill="#ffa500"/>
<rect x="4" y="490" width="6" height="6" fill="#ffa500"/>
<rect x="6" y="492" width="2" height="2" fill="#fff"/>
<rect x="1638" y="490" width="6" height="6" fill="#ffa500"/>
<rect x="1640" y="492" width="2" height="2" fill="#fff"/>
<rect x="1646" y="487" width="41" height="11" fill="#ffa500"/>
<text x="1650" y="496" font-size="9.9" fill="#fff" textLength="33" lengthAdjust="spacingAndGlyphs">0.99322</text>
<rect x="5" y="555" width="1639" height="2" fill="#0000ff"/>
<rect x="4" y="553" width="6" height="6" fill="#0000ff"/>
<rect x="6" y="555" width="2" height="2" fill="#fff"/>
<rect x="1638" y="553" width="6" height="6" fill="#0000ff"/>
<rect x="1640" y="555" width="2" height="2" fill="#fff"/>
<rect x="1646" y="550" width="41" height="11" fill="#0000ff"/>
<text x="1650" y="559" font-size="9.9" fill="#fff" textLength="33" lengthAdjust="spacingAndGlyphs">0.98928</text>
<rect x="5" y="595" width="1639" height="2" fill="#0000ff"/>
<rect x="4" y="593" width="6" height="6" fill="#0000ff"/>
<rect x="6" y="595" width="2" height="2" fill="#fff"/>
<rect x="1638" y="593" width="6" height="6" fill="#0000ff"/>
<rect x="1640" y="595" width="2" height="2" fill="#fff"/>
<rect x="1646" y="590" width="41" height="11" fill="#0000ff"/>
<text x="1650" y="599" font-size="9.9" fill="#fff" textLength="33" lengthAdjust="spacingAndGlyphs">0.98686</text>
<rect x="1442" y="28" width="10" height="1" fill="#000"/>
<rect x="1443" y="29" width="8" height="1" fill="#000"/>
<rect x="1444" y="30" width="6" height="1" fill="#000"/>
<rect x="1445" y="31" width="4" height="1" fill="#000"/>
<rect x="1446" y="32" width="2" height="1" fill="#000"/>
<polygon points="8,34 15,34 11.5,38" fill="#000" shape-rendering="geometricPrecision"/>
<text x="20.5" y="39" font-size="9.9" fill="#000" textLength="56" lengthAdjust="spacingAndGlyphs">EURUSD-,H4</text>
<text x="83" y="39" font-size="9.9" fill="#000" textLength="140.5" lengthAdjust="spacingAndGlyphs">0.99297 0.99307 0.99192 0.99192</text>
<g shape-rendering="geometricPrecision">
<line x1="1353" y1="344" x2="1502" y2="453" stroke="#4f9d2d" stroke-width="3"/>
<polygon points="1505.2,445.2 1495.3,458.9 1513.8,462" fill="#4f9d2d"/>
</g>
<rect x="5" y="825" width="1" height="3" fill="#000"/>
<text x="4.5" y="837" font-size="9.8" fill="#000" textLength="53" lengthAdjust="spacingAndGlyphs">16 Aug 2022</text>
<rect x="69" y="825" width="1" height="3" fill="#000"/>
<text x="68.5" y="837" font-size="9.8" fill="#000" textLength="56" lengthAdjust="spacingAndGlyphs">16 Aug 16:00</text>
<rect x="133" y="825" width="1" height="3" fill="#000"/>
<text x="132.5" y="837" font-size="9.8" fill="#000" textLength="56" lengthAdjust="spacingAndGlyphs">17 Aug 08:00</text>
<rect x="197" y="825" width="1" height="3" fill="#000"/>
<text x="196.5" y="837" font-size="9.8" fill="#000" textLength="56" lengthAdjust="spacingAndGlyphs">18 Aug 00:00</text>
<rect x="261" y="825" width="1" height="3" fill="#000"/>
<text x="260.5" y="837" font-size="9.8" fill="#000" textLength="56" lengthAdjust="spacingAndGlyphs">18 Aug 16:00</text>
<rect x="325" y="825" width="1" height="3" fill="#000"/>
<text x="324.5" y="837" font-size="9.8" fill="#000" textLength="56" lengthAdjust="spacingAndGlyphs">19 Aug 08:00</text>
<rect x="389" y="825" width="1" height="3" fill="#000"/>
<text x="388.5" y="837" font-size="9.8" fill="#000" textLength="56" lengthAdjust="spacingAndGlyphs">22 Aug 00:00</text>
<rect x="453" y="825" width="1" height="3" fill="#000"/>
<text x="452.5" y="837" font-size="9.8" fill="#000" textLength="56" lengthAdjust="spacingAndGlyphs">22 Aug 16:00</text>
<rect x="517" y="825" width="1" height="3" fill="#000"/>
<text x="516.5" y="837" font-size="9.8" fill="#000" textLength="56" lengthAdjust="spacingAndGlyphs">23 Aug 08:00</text>
<rect x="581" y="825" width="1" height="3" fill="#000"/>
<text x="580.5" y="837" font-size="9.8" fill="#000" textLength="56" lengthAdjust="spacingAndGlyphs">24 Aug 00:00</text>
<rect x="645" y="825" width="1" height="3" fill="#000"/>
<text x="644.5" y="837" font-size="9.8" fill="#000" textLength="56" lengthAdjust="spacingAndGlyphs">24 Aug 16:00</text>
<rect x="709" y="825" width="1" height="3" fill="#000"/>
<text x="708.5" y="837" font-size="9.8" fill="#000" textLength="56" lengthAdjust="spacingAndGlyphs">25 Aug 08:00</text>
<rect x="773" y="825" width="1" height="3" fill="#000"/>
<text x="772.5" y="837" font-size="9.8" fill="#000" textLength="56" lengthAdjust="spacingAndGlyphs">26 Aug 00:00</text>
<rect x="837" y="825" width="1" height="3" fill="#000"/>
<text x="836.5" y="837" font-size="9.8" fill="#000" textLength="56" lengthAdjust="spacingAndGlyphs">26 Aug 16:00</text>
<rect x="901" y="825" width="1" height="3" fill="#000"/>
<text x="900.5" y="837" font-size="9.8" fill="#000" textLength="56" lengthAdjust="spacingAndGlyphs">29 Aug 08:00</text>
<rect x="965" y="825" width="1" height="3" fill="#000"/>
<text x="964.5" y="837" font-size="9.8" fill="#000" textLength="56" lengthAdjust="spacingAndGlyphs">30 Aug 00:00</text>
<rect x="1029" y="825" width="1" height="3" fill="#000"/>
<text x="1028.5" y="837" font-size="9.8" fill="#000" textLength="56" lengthAdjust="spacingAndGlyphs">30 Aug 16:00</text>
<rect x="1093" y="825" width="1" height="3" fill="#000"/>
<text x="1092.5" y="837" font-size="9.8" fill="#000" textLength="56" lengthAdjust="spacingAndGlyphs">31 Aug 08:00</text>
<rect x="1157" y="825" width="1" height="3" fill="#000"/>
<text x="1156.5" y="837" font-size="9.8" fill="#000" textLength="50" lengthAdjust="spacingAndGlyphs">1 Sep 00:00</text>
<rect x="1221" y="825" width="1" height="3" fill="#000"/>
<text x="1220.5" y="837" font-size="9.8" fill="#000" textLength="50" lengthAdjust="spacingAndGlyphs">1 Sep 16:00</text>
<rect x="1285" y="825" width="1" height="3" fill="#000"/>
<text x="1284.5" y="837" font-size="9.8" fill="#000" textLength="50" lengthAdjust="spacingAndGlyphs">2 Sep 08:00</text>
<rect x="1349" y="825" width="1" height="3" fill="#000"/>
<text x="1348.5" y="837" font-size="9.8" fill="#000" textLength="50" lengthAdjust="spacingAndGlyphs">5 Sep 00:00</text>
<rect x="1413" y="825" width="1" height="3" fill="#000"/>
<text x="1412.5" y="837" font-size="9.8" fill="#000" textLength="50" lengthAdjust="spacingAndGlyphs">5 Sep 16:00</text>
<rect x="0" y="25" width="1" height="821" fill="#a9a9a9"/>
<rect x="1" y="25" width="1" height="821" fill="#7f7f7f"/>
<rect x="1690" y="25" width="1" height="821" fill="#e3e3e3"/>
<rect x="1691" y="25" width="1" height="822" fill="#f7f7f7"/>
<rect x="0" y="845" width="1691" height="1" fill="#e3e3e3"/>
<rect x="0" y="846" width="1692" height="1" fill="#f7f7f7"/>
<rect x="5" y="0" width="1" height="21" fill="#a0a0a0"/>
<rect x="6" y="0" width="1" height="21" fill="#ffffff"/>
<rect x="241" y="0" width="1" height="22" fill="#a0a0a0"/>
<rect x="242" y="0" width="1" height="22" fill="#ffffff"/>
<rect x="279" y="0" width="1" height="21" fill="#a0a0a0"/>
<rect x="280" y="0" width="1" height="21" fill="#ffffff"/>
<rect x="336" y="0" width="1" height="21" fill="#a0a0a0"/>
<rect x="337" y="0" width="1" height="21" fill="#ffffff"/>
<rect x="426" y="0" width="1" height="21" fill="#a0a0a0"/>
<rect x="427" y="0" width="1" height="21" fill="#ffffff"/>
<rect x="431" y="0" width="1" height="21" fill="#a0a0a0"/>
<rect x="432" y="0" width="1" height="21" fill="#ffffff"/>
<rect x="459" y="0" width="1" height="21" fill="#a0a0a0"/>
<rect x="460" y="0" width="1" height="21" fill="#ffffff"/>
<rect x="488" y="0" width="1" height="21" fill="#a0a0a0"/>
<rect x="489" y="0" width="1" height="21" fill="#ffffff"/>
<rect x="609" y="0" width="1" height="22" fill="#a0a0a0"/>
<rect x="610" y="0" width="1" height="22" fill="#ffffff"/>
<rect x="619" y="0" width="1" height="21" fill="#a0a0a0"/>
<rect x="620" y="0" width="1" height="21" fill="#ffffff"/>
<rect x="676" y="0" width="1" height="21" fill="#a0a0a0"/>
<rect x="677" y="0" width="1" height="21" fill="#ffffff"/>
<rect x="915" y="0" width="1" height="22" fill="#a0a0a0"/>
<rect x="916" y="0" width="1" height="22" fill="#ffffff"/>
<rect x="1065" y="0" width="1" height="21" fill="#a0a0a0"/>
<rect x="1066" y="0" width="1" height="21" fill="#ffffff"/>
<rect x="1176" y="0" width="1" height="22" fill="#a0a0a0"/>
<rect x="1177" y="0" width="1" height="22" fill="#ffffff"/>
<rect x="245" y="1" width="3" height="1" fill="#a8a8a8"/>
<rect x="245" y="3" width="3" height="1" fill="#a8a8a8"/>
<rect x="245" y="5" width="3" height="1" fill="#a8a8a8"/>
<rect x="245" y="7" width="3" height="1" fill="#a8a8a8"/>
<rect x="245" y="9" width="3" height="1" fill="#a8a8a8"/>
<rect x="245" y="11" width="3" height="1" fill="#a8a8a8"/>
<rect x="245" y="13" width="3" height="1" fill="#a8a8a8"/>
<rect x="245" y="15" width="3" height="1" fill="#a8a8a8"/>
<rect x="245" y="17" width="3" height="1" fill="#a8a8a8"/>
<rect x="245" y="19" width="3" height="1" fill="#a8a8a8"/>
<rect x="613" y="1" width="3" height="1" fill="#a8a8a8"/>
<rect x="613" y="3" width="3" height="1" fill="#a8a8a8"/>
<rect x="613" y="5" width="3" height="1" fill="#a8a8a8"/>
<rect x="613" y="7" width="3" height="1" fill="#a8a8a8"/>
<rect x="613" y="9" width="3" height="1" fill="#a8a8a8"/>
<rect x="613" y="11" width="3" height="1" fill="#a8a8a8"/>
<rect x="613" y="13" width="3" height="1" fill="#a8a8a8"/>
<rect x="613" y="15" width="3" height="1" fill="#a8a8a8"/>
<rect x="613" y="17" width="3" height="1" fill="#a8a8a8"/>
<rect x="613" y="19" width="3" height="1" fill="#a8a8a8"/>
<rect x="919" y="1" width="3" height="1" fill="#a8a8a8"/>
<rect x="919" y="3" width="3" height="1" fill="#a8a8a8"/>
<rect x="919" y="5" width="3" height="1" fill="#a8a8a8"/>
<rect x="919" y="7" width="3" height="1" fill="#a8a8a8"/>
<rect x="919" y="9" width="3" height="1" fill="#a8a8a8"/>
<rect x="919" y="11" width="3" height="1" fill="#a8a8a8"/>
<rect x="919" y="13" width="3" height="1" fill="#a8a8a8"/>
<rect x="919" y="15" width="3" height="1" fill="#a8a8a8"/>
<rect x="919" y="17" width="3" height="1" fill="#a8a8a8"/>
<rect x="919" y="19" width="3" height="1" fill="#a8a8a8"/>
<defs><pattern id="chk" width="2" height="2" patternUnits="userSpaceOnUse"><rect width="2" height="2" fill="#f0f0f0"/><rect width="1" height="1" fill="#fdfdfd"/><rect x="1" y="1" width="1" height="1" fill="#fdfdfd"/></pattern><linearGradient id="gplus" x1="0" y1="0" x2="1" y2="1"><stop offset="0" stop-color="#a8ffa8"/><stop offset="0.5" stop-color="#10e020"/><stop offset="1" stop-color="#00b000"/></linearGradient><linearGradient id="gbar" x1="0" y1="0" x2="1" y2="0"><stop offset="0" stop-color="#b0ffb0"/><stop offset="1" stop-color="#00c000"/></linearGradient><linearGradient id="gyel" x1="0" y1="0" x2="1" y2="1"><stop offset="0" stop-color="#fff080"/><stop offset="0.6" stop-color="#e0b010"/><stop offset="1" stop-color="#b07000"/></linearGradient><radialGradient id="gred" cx="0.4" cy="0.3" r="0.8"><stop offset="0" stop-color="#f06040"/><stop offset="1" stop-color="#d01800"/></radialGradient></defs>
<rect x="280" y="0" width="24" height="21" fill="url(#chk)"/>
<rect x="460" y="0" width="24" height="21" fill="url(#chk)"/>
<rect x="621" y="0" width="23" height="21" fill="url(#chk)"/>
<rect x="1066" y="0" width="25" height="21" fill="url(#chk)"/>
<g shape-rendering="geometricPrecision">
<path d="M15.5,4.5 h7.5 l3,3 v9 h-10.5 z" fill="#fff" stroke="#6a6a6a" stroke-width="1"/>
<path d="M23,4.5 v3 h3" fill="#e8e8e8" stroke="#6a6a6a" stroke-width="1"/>
<line x1="17.5" y1="6" x2="19.5" y2="6" stroke="#909090" stroke-width="1"/>
<line x1="17.5" y1="9.5" x2="22" y2="9.5" stroke="#909090" stroke-width="1"/>
<line x1="17.5" y1="11.5" x2="22" y2="11.5" stroke="#909090" stroke-width="1"/>
<line x1="17.5" y1="13.5" x2="22" y2="13.5" stroke="#909090" stroke-width="1"/>
<path d="M23,9.5 h4 v4 h4 v4 h-4 v4 h-4 v-4 h-4 v-4 h4 z" fill="url(#gplus)" stroke="#008a00" stroke-width="1"/>
</g>
<rect x="37" y="4" width="1" height="1" fill="#000"/>
<rect x="42" y="4" width="2" height="1" fill="#000"/>
<rect x="34" y="5" width="6" height="1" fill="#000"/>
<rect x="41" y="5" width="1" height="1" fill="#000"/>
<rect x="35" y="6" width="1" height="1" fill="#000"/>
<rect x="38" y="6" width="1" height="1" fill="#000"/>
<rect x="41" y="6" width="1" height="1" fill="#000"/>
<rect x="36" y="7" width="2" height="1" fill="#000"/>
<rect x="41" y="7" width="1" height="1" fill="#000"/>
<rect x="34" y="8" width="6" height="1" fill="#000"/>
<rect x="41" y="8" width="5" height="1" fill="#000"/>
<rect x="37" y="9" width="1" height="1" fill="#000"/>
<rect x="41" y="9" width="1" height="1" fill="#000"/>
<rect x="44" y="9" width="1" height="1" fill="#000"/>
<rect x="34" y="10" width="6" height="1" fill="#000"/>
<rect x="41" y="10" width="1" height="1" fill="#000"/>
<rect x="44" y="10" width="1" height="1" fill="#000"/>
<rect x="37" y="11" width="1" height="1" fill="#000"/>
<rect x="41" y="11" width="1" height="1" fill="#000"/>
<rect x="44" y="11" width="1" height="1" fill="#000"/>
<rect x="35" y="12" width="1" height="1" fill="#000"/>
<rect x="37" y="12" width="1" height="1" fill="#000"/>
<rect x="39" y="12" width="1" height="1" fill="#000"/>
<rect x="41" y="12" width="1" height="1" fill="#000"/>
<rect x="44" y="12" width="1" height="1" fill="#000"/>
<rect x="34" y="13" width="1" height="1" fill="#000"/>
<rect x="37" y="13" width="1" height="1" fill="#000"/>
<rect x="40" y="13" width="1" height="1" fill="#000"/>
<rect x="44" y="13" width="1" height="1" fill="#000"/>
<rect x="36" y="14" width="2" height="1" fill="#000"/>
<rect x="39" y="14" width="1" height="1" fill="#000"/>
<rect x="44" y="14" width="1" height="1" fill="#000"/>
<rect x="48" y="4" width="1" height="1" fill="#000"/>
<rect x="49" y="5" width="1" height="1" fill="#000"/>
<rect x="51" y="5" width="7" height="1" fill="#000"/>
<rect x="55" y="6" width="1" height="1" fill="#000"/>
<rect x="55" y="7" width="1" height="1" fill="#000"/>
<rect x="47" y="8" width="2" height="1" fill="#000"/>
<rect x="55" y="8" width="1" height="1" fill="#000"/>
<rect x="48" y="9" width="1" height="1" fill="#000"/>
<rect x="55" y="9" width="1" height="1" fill="#000"/>
<rect x="48" y="10" width="1" height="1" fill="#000"/>
<rect x="55" y="10" width="1" height="1" fill="#000"/>
<rect x="48" y="11" width="1" height="1" fill="#000"/>
<rect x="55" y="11" width="1" height="1" fill="#000"/>
<rect x="48" y="12" width="1" height="1" fill="#000"/>
<rect x="50" y="12" width="1" height="1" fill="#000"/>
<rect x="55" y="12" width="1" height="1" fill="#000"/>
<rect x="48" y="13" width="2" height="1" fill="#000"/>
<rect x="55" y="13" width="1" height="1" fill="#000"/>
<rect x="48" y="14" width="1" height="1" fill="#000"/>
<rect x="53" y="14" width="3" height="1" fill="#000"/>
<rect x="60" y="4" width="2" height="1" fill="#000"/>
<rect x="66" y="4" width="2" height="1" fill="#000"/>
<rect x="61" y="5" width="1" height="1" fill="#000"/>
<rect x="65" y="5" width="1" height="1" fill="#000"/>
<rect x="59" y="6" width="9" height="1" fill="#000"/>
<rect x="59" y="7" width="1" height="1" fill="#000"/>
<rect x="63" y="7" width="1" height="1" fill="#000"/>
<rect x="67" y="7" width="1" height="1" fill="#000"/>
<rect x="59" y="8" width="9" height="1" fill="#000"/>
<rect x="59" y="9" width="1" height="1" fill="#000"/>
<rect x="63" y="9" width="1" height="1" fill="#000"/>
<rect x="67" y="9" width="1" height="1" fill="#000"/>
<rect x="59" y="10" width="9" height="1" fill="#000"/>
<rect x="63" y="11" width="1" height="1" fill="#000"/>
<rect x="58" y="12" width="12" height="1" fill="#000"/>
<rect x="63" y="13" width="1" height="1" fill="#000"/>
<rect x="63" y="14" width="1" height="1" fill="#000"/>
<rect x="190" y="4" width="1" height="1" fill="#000"/>
<rect x="189" y="5" width="1" height="1" fill="#000"/>
<rect x="187" y="6" width="10" height="1" fill="#000"/>
<rect x="187" y="7" width="1" height="1" fill="#000"/>
<rect x="196" y="7" width="1" height="1" fill="#000"/>
<rect x="187" y="8" width="1" height="1" fill="#000"/>
<rect x="196" y="8" width="1" height="1" fill="#000"/>
<rect x="187" y="9" width="10" height="1" fill="#000"/>
<rect x="187" y="10" width="1" height="1" fill="#000"/>
<rect x="196" y="10" width="1" height="1" fill="#000"/>
<rect x="187" y="11" width="1" height="1" fill="#000"/>
<rect x="196" y="11" width="1" height="1" fill="#000"/>
<rect x="187" y="12" width="10" height="1" fill="#000"/>
<rect x="187" y="13" width="1" height="1" fill="#000"/>
<rect x="196" y="13" width="1" height="1" fill="#000"/>
<rect x="187" y="14" width="10" height="1" fill="#000"/>
<rect x="206" y="4" width="1" height="1" fill="#000"/>
<rect x="199" y="5" width="5" height="1" fill="#000"/>
<rect x="206" y="5" width="1" height="1" fill="#000"/>
<rect x="206" y="6" width="1" height="1" fill="#000"/>
<rect x="206" y="7" width="1" height="1" fill="#000"/>
<rect x="198" y="8" width="6" height="1" fill="#000"/>
<rect x="205" y="8" width="5" height="1" fill="#000"/>
<rect x="200" y="9" width="1" height="1" fill="#000"/>
<rect x="206" y="9" width="1" height="1" fill="#000"/>
<rect x="209" y="9" width="1" height="1" fill="#000"/>
<rect x="199" y="10" width="1" height="1" fill="#000"/>
<rect x="202" y="10" width="1" height="1" fill="#000"/>
<rect x="206" y="10" width="1" height="1" fill="#000"/>
<rect x="209" y="10" width="1" height="1" fill="#000"/>
<rect x="199" y="11" width="1" height="1" fill="#000"/>
<rect x="203" y="11" width="1" height="1" fill="#000"/>
<rect x="206" y="11" width="1" height="1" fill="#000"/>
<rect x="209" y="11" width="1" height="1" fill="#000"/>
<rect x="198" y="12" width="4" height="1" fill="#000"/>
<rect x="203" y="12" width="1" height="1" fill="#000"/>
<rect x="205" y="12" width="1" height="1" fill="#000"/>
<rect x="209" y="12" width="1" height="1" fill="#000"/>
<rect x="198" y="13" width="1" height="1" fill="#000"/>
<rect x="204" y="13" width="1" height="1" fill="#000"/>
<rect x="209" y="13" width="1" height="1" fill="#000"/>
<rect x="203" y="14" width="1" height="1" fill="#000"/>
<rect x="207" y="14" width="2" height="1" fill="#000"/>
<rect x="215" y="4" width="1" height="1" fill="#000"/>
<rect x="215" y="5" width="1" height="1" fill="#000"/>
<rect x="210" y="6" width="12" height="1" fill="#000"/>
<rect x="212" y="8" width="1" height="1" fill="#000"/>
<rect x="219" y="8" width="1" height="1" fill="#000"/>
<rect x="211" y="9" width="1" height="1" fill="#000"/>
<rect x="214" y="9" width="1" height="1" fill="#000"/>
<rect x="217" y="9" width="1" height="1" fill="#000"/>
<rect x="220" y="9" width="1" height="1" fill="#000"/>
<rect x="210" y="10" width="1" height="1" fill="#000"/>
<rect x="215" y="10" width="2" height="1" fill="#000"/>
<rect x="221" y="10" width="1" height="1" fill="#000"/>
<rect x="215" y="11" width="2" height="1" fill="#000"/>
<rect x="214" y="12" width="1" height="1" fill="#000"/>
<rect x="217" y="12" width="1" height="1" fill="#000"/>
<rect x="212" y="13" width="2" height="1" fill="#000"/>
<rect x="218" y="13" width="2" height="1" fill="#000"/>
<rect x="210" y="14" width="2" height="1" fill="#000"/>
<rect x="220" y="14" width="2" height="1" fill="#000"/>
<rect x="224" y="4" width="9" height="1" fill="#000"/>
<rect x="224" y="5" width="1" height="1" fill="#000"/>
<rect x="232" y="5" width="1" height="1" fill="#000"/>
<rect x="224" y="6" width="9" height="1" fill="#000"/>
<rect x="224" y="7" width="1" height="1" fill="#000"/>
<rect x="232" y="7" width="1" height="1" fill="#000"/>
<rect x="224" y="8" width="9" height="1" fill="#000"/>
<rect x="223" y="9" width="1" height="1" fill="#000"/>
<rect x="222" y="10" width="11" height="1" fill="#000"/>
<rect x="222" y="11" width="1" height="1" fill="#000"/>
<rect x="225" y="11" width="1" height="1" fill="#000"/>
<rect x="228" y="11" width="1" height="1" fill="#000"/>
<rect x="232" y="11" width="1" height="1" fill="#000"/>
<rect x="224" y="12" width="1" height="1" fill="#000"/>
<rect x="227" y="12" width="1" height="1" fill="#000"/>
<rect x="231" y="12" width="2" height="1" fill="#000"/>
<rect x="223" y="13" width="1" height="1" fill="#000"/>
<rect x="226" y="13" width="1" height="1" fill="#000"/>
<rect x="230" y="13" width="1" height="1" fill="#000"/>
<rect x="232" y="13" width="1" height="1" fill="#000"/>
<rect x="222" y="14" width="1" height="1" fill="#000"/>
<rect x="225" y="14" width="1" height="1" fill="#000"/>
<rect x="228" y="14" width="2" height="1" fill="#000"/>
<rect x="232" y="14" width="1" height="1" fill="#000"/>
<g shape-rendering="geometricPrecision">
<path d="M82.5,13 Q85,9 87.5,4.5 L97.5,12 L90.5,18.8 Z" fill="url(#gyel)" stroke="#9a6000" stroke-width="1"/>
<path d="M84.5,13.8 L90.5,17" stroke="#fff4b0" stroke-width="1.2" fill="none"/>
<path d="M91.5,17.2 L96.5,12.6" stroke="#e8d8a0" stroke-width="1" fill="none"/>
<defs><linearGradient id="gbox" x1="0" y1="0" x2="1" y2="0"><stop offset="0" stop-color="#0a8af0"/><stop offset="1" stop-color="#10b0ff"/></linearGradient><linearGradient id="gcloud" x1="0" y1="0" x2="0" y2="1"><stop offset="0" stop-color="#ffffff"/><stop offset="1" stop-color="#b8c4dc"/></linearGradient></defs>
<path d="M112.5,4.5 L115,3.5 H123 L124.5,5 V14 H112.5 Z" fill="url(#gbox)" stroke="#0a6ad0" stroke-width="0.8"/>
<path d="M113,4 L115.5,6.5 V14" fill="none" stroke="#d8f0ff" stroke-width="0.9"/>
<path d="M117,8.5 h5.5" stroke="#e8f6ff" stroke-width="1"/>
<path d="M111.5,18.5 q-1.8,-3.2 1.8,-4 q0.8,-2.8 3.8,-2.2 q2,-2 4.6,-0.2 q3.2,-0.8 3.6,2.4 q2.4,0.6 1.2,4 z" fill="url(#gcloud)" stroke="#4a68a8" stroke-width="0.9"/>
<circle cx="146" cy="10.5" r="7" fill="none" stroke="#5080d0" stroke-opacity="0.55" stroke-width="1"/>
<circle cx="146" cy="10.5" r="4.8" fill="none" stroke="#5080d0" stroke-opacity="0.7" stroke-width="1"/>
<circle cx="146" cy="10.5" r="2.6" fill="none" stroke="#5080d0" stroke-opacity="0.85" stroke-width="1"/>
<path d="M146,10.5 m0,7 a7,7 0 0 0 7,-7" fill="none" stroke="#40a040" stroke-width="1.2"/>
<circle cx="146" cy="10.5" r="1.6" fill="#2050c0"/>
<line x1="146.5" y1="11" x2="146.5" y2="18.5" stroke="#20a020" stroke-width="1.2"/>
<path d="M166,11 L181,11 L176,19 L172,19 Z" fill="#f8e060" stroke="#d0a020" stroke-width="1"/>
<ellipse cx="173.5" cy="7.5" rx="8" ry="3" fill="#60b0e0" stroke="#2080b0" stroke-width="1"/>
<ellipse cx="173.5" cy="5.5" rx="3.5" ry="2.5" fill="#80c8f0" stroke="#2080b0" stroke-width="1"/>
<circle cx="177.5" cy="14.5" r="4" fill="url(#gred)" stroke="#b01000" stroke-width="0.8"/>
<rect x="175.8" y="12.8" width="3.4" height="3.4" fill="#fff"/>
<path d="M259.5,5 V19 M257,16.5 H270" stroke="#4a4a4a" stroke-width="1" fill="none"/>
<path d="M257.5,7 L259.5,4.5 L261.5,7 Z M268.5,14.5 L271,16.5 L268.5,18.5 Z" fill="#4a4a4a"/>
<path d="M265.5,6 V14.5 M265.5,7.5 H268.5 M263,13.5 H265.5" stroke="#109010" stroke-width="1.2" fill="none"/>
<path d="M287.5,5 V19 M285,16.5 H298" stroke="#4a4a4a" stroke-width="1" fill="none"/>
<path d="M285.5,7 L287.5,4.5 L289.5,7 Z M296.5,14.5 L299,16.5 L296.5,18.5 Z" fill="#4a4a4a"/>
<line x1="293.5" y1="3" x2="293.5" y2="15" stroke="#008000" stroke-width="1"/>
<rect x="291.5" y="5.5" width="4" height="7" fill="url(#gbar)" stroke="#008000" stroke-width="1"/>
<path d="M315.5,5 V19 M313,16.5 H326" stroke="#4a4a4a" stroke-width="1" fill="none"/>
<path d="M313.5,7 L315.5,4.5 L317.5,7 Z M324.5,14.5 L327,16.5 L324.5,18.5 Z" fill="#4a4a4a"/>
<path d="M314,13.5 Q318,8 320,8 Q322,8 325.5,12" stroke="#30a030" stroke-width="1" fill="none"/>
<line x1="354.5" y1="12.5" x2="359.5" y2="17.5" stroke="#a07000" stroke-width="3.2"/>
<line x1="354.5" y1="12.5" x2="359.5" y2="17.5" stroke="#f0d040" stroke-width="1.6"/>
<circle cx="351" cy="9" r="5.5" fill="#dff2ff" stroke="#3f86c8" stroke-width="1"/>
<path d="M348,9 H354" stroke="#3a7ab0" stroke-width="1.8"/>
<path d="M351,6 V12" stroke="#3a7ab0" stroke-width="1.8"/>
<line x1="382.5" y1="12.5" x2="387.5" y2="17.5" stroke="#a07000" stroke-width="3.2"/>
<line x1="382.5" y1="12.5" x2="387.5" y2="17.5" stroke="#f0d040" stroke-width="1.6"/>
<circle cx="379" cy="9" r="5.5" fill="#dff2ff" stroke="#3f86c8" stroke-width="1"/>
<path d="M376,9 H382" stroke="#3a7ab0" stroke-width="1.8"/>
<rect x="401" y="3" width="8" height="8" fill="#2a9a20"/>
<rect x="402" y="6" width="6" height="4" fill="#fff"/>
<rect x="403" y="7" width="4" height="1" fill="#2a9a20" fill-opacity="0.5"/>
<rect x="409" y="3" width="8" height="8" fill="#2050d0"/>
<rect x="410" y="6" width="6" height="4" fill="#fff"/>
<rect x="411" y="7" width="4" height="1" fill="#2050d0" fill-opacity="0.5"/>
<rect x="401" y="11" width="8" height="8" fill="#2050d0"/>
<rect x="402" y="14" width="6" height="4" fill="#fff"/>
<rect x="403" y="15" width="4" height="1" fill="#2050d0" fill-opacity="0.5"/>
<rect x="409" y="11" width="8" height="8" fill="#2a9a20"/>
<rect x="410" y="14" width="6" height="4" fill="#fff"/>
<rect x="411" y="15" width="4" height="1" fill="#2a9a20" fill-opacity="0.5"/>
<path d="M439.5,5 V19 M437,16.5 H450" stroke="#4a4a4a" stroke-width="1" fill="none"/>
<path d="M437.5,7 L439.5,4.5 L441.5,7 Z M448.5,14.5 L451,16.5 L448.5,18.5 Z" fill="#4a4a4a"/>
<path d="M444.5,7.5 L448,10.5 L444.5,13.5 Z" fill="#60d060" stroke="#109010" stroke-width="1"/>
<path d="M467.5,5 V19 M465,16.5 H478" stroke="#4a4a4a" stroke-width="1" fill="none"/>
<path d="M465.5,7 L467.5,4.5 L469.5,7 Z M476.5,14.5 L479,16.5 L476.5,18.5 Z" fill="#4a4a4a"/>
<line x1="473.5" y1="5" x2="473.5" y2="14.5" stroke="#1a70b0" stroke-width="1"/>
<path d="M474.5,10.5 L477.5,8 L477,10 L479,10 L479,11 L477,11 L477.5,13 Z" fill="#e05010"/>
<path d="M498.5,3.5 h7.5 l3,3 v10 h-10.5 z" fill="#fff" stroke="#6a6a6a" stroke-width="1"/>
<path d="M506,3.5 v3 h3" fill="#e8e8e8" stroke="#6a6a6a" stroke-width="1"/>
<path d="M502,7 v6 M501,8 h1 M501,12 h1" stroke="#605030" stroke-width="0.8" fill="none"/>
<path d="M506,9.5 h4 v3.5 h3.5 v4 h-3.5 v3.5 h-4 v-3.5 h-3.5 v-4 h3.5 z" fill="url(#gplus)" stroke="#008a00" stroke-width="1"/>
<defs><linearGradient id="gclk" x1="0" y1="0" x2="1" y2="1"><stop offset="0" stop-color="#50b8ff"/><stop offset="0.5" stop-color="#0a70d8"/><stop offset="1" stop-color="#003a90"/></linearGradient></defs>
<circle cx="544" cy="10.9" r="6.5" fill="#f4f4f4" stroke="url(#gclk)" stroke-width="2.8"/>
<circle cx="544.00" cy="6.60" r="0.4" fill="#707070"/>
<circle cx="546.15" cy="7.18" r="0.4" fill="#707070"/>
<circle cx="547.72" cy="8.75" r="0.4" fill="#707070"/>
<circle cx="548.30" cy="10.90" r="0.4" fill="#707070"/>
<circle cx="547.72" cy="13.05" r="0.4" fill="#707070"/>
<circle cx="546.15" cy="14.62" r="0.4" fill="#707070"/>
<circle cx="544.00" cy="15.20" r="0.4" fill="#707070"/>
<circle cx="541.85" cy="14.62" r="0.4" fill="#707070"/>
<circle cx="540.28" cy="13.05" r="0.4" fill="#707070"/>
<circle cx="539.70" cy="10.90" r="0.4" fill="#707070"/>
<circle cx="540.28" cy="8.75" r="0.4" fill="#707070"/>
<circle cx="541.85" cy="7.18" r="0.4" fill="#707070"/>
<path d="M543.6,7.2 V11 H547.2" stroke="#151515" stroke-width="1.1" fill="none"/>
<rect x="575.5" y="4.5" width="15" height="13" fill="#fff" stroke="#3070c0" stroke-width="1"/>
<rect x="576" y="5" width="14" height="1.5" fill="#5a90d8"/>
<line x1="576" y1="11.5" x2="590" y2="11.5" stroke="#3070c0" stroke-width="1"/>
<polyline points="577,9.5 579,9.5 581,8.5 583,8.5 585,9.5 587,8 589,8" fill="none" stroke="#a02010" stroke-width="1"/>
<polyline points="578,15.5 580,15 582,15.5 584,14 586,13.5 588,15.5" fill="none" stroke="#109010" stroke-width="1"/>
</g>
<g shape-rendering="geometricPrecision">
<path d="M520,10 h5.2 l-2.6,2.8 z" fill="#000"/>
<path d="M559,10 h5.2 l-2.6,2.8 z" fill="#000"/>
<path d="M598,10 h5.2 l-2.6,2.8 z" fill="#000"/>
<path d="M904,10 h5.2 l-2.6,2.8 z" fill="#000"/>
<path d="M627,4 V15.5 L629.8,12.8 L632,17.8 L634,17 L631.8,12 L635.3,11.5 Z" fill="#4a4a4a"/>
</g>
<rect x="659" y="4" width="1" height="7" fill="#4a4a4a"/>
<rect x="659" y="12" width="1" height="7" fill="#4a4a4a"/>
<rect x="652" y="11" width="7" height="1" fill="#4a4a4a"/>
<rect x="660" y="11" width="7" height="1" fill="#4a4a4a"/>
<rect x="693" y="5" width="1" height="13" fill="#4a4a4a"/>
<rect x="716" y="11" width="12" height="1" fill="#4a4a4a"/>
<g shape-rendering="geometricPrecision">
<line x1="744" y1="17.5" x2="756" y2="6" stroke="#4a4a4a" stroke-width="1"/>
<path d="M770.5,12.5 L778,5 M772,17.5 L783.5,6 M775,18 L784,9.5" stroke="#4a4a4a" stroke-width="1" fill="none"/>
<path d="M772.5,15.5 l1.2,-4.2 M775.5,13.5 l1.2,-4.2 M778.5,11 l1.2,-4.2 M781.5,3 v6.5" stroke="#4a4a4a" stroke-width="1" fill="none"/>
</g>
<text x="780.5" y="19.5" font-size="6.5" font-weight="bold" fill="#4a4a4a">E</text>
<rect x="799" y="4" width="1" height="1" fill="#4a4a4a"/>
<rect x="801" y="4" width="1" height="1" fill="#4a4a4a"/>
<rect x="803" y="4" width="1" height="1" fill="#4a4a4a"/>
<rect x="805" y="4" width="1" height="1" fill="#4a4a4a"/>
<rect x="807" y="4" width="1" height="1" fill="#4a4a4a"/>
<rect x="809" y="4" width="1" height="1" fill="#4a4a4a"/>
<rect x="811" y="4" width="1" height="1" fill="#4a4a4a"/>
<rect x="799" y="7" width="1" height="1" fill="#4a4a4a"/>
<rect x="801" y="7" width="1" height="1" fill="#4a4a4a"/>
<rect x="803" y="7" width="1" height="1" fill="#4a4a4a"/>
<rect x="805" y="7" width="1" height="1" fill="#4a4a4a"/>
<rect x="807" y="7" width="1" height="1" fill="#4a4a4a"/>
<rect x="809" y="7" width="1" height="1" fill="#4a4a4a"/>
<rect x="811" y="7" width="1" height="1" fill="#4a4a4a"/>
<rect x="799" y="11" width="1" height="1" fill="#4a4a4a"/>
<rect x="801" y="11" width="1" height="1" fill="#4a4a4a"/>
<rect x="803" y="11" width="1" height="1" fill="#4a4a4a"/>
<rect x="805" y="11" width="1" height="1" fill="#4a4a4a"/>
<rect x="807" y="11" width="1" height="1" fill="#4a4a4a"/>
<rect x="809" y="11" width="1" height="1" fill="#4a4a4a"/>
<rect x="811" y="11" width="1" height="1" fill="#4a4a4a"/>
<rect x="799" y="15" width="1" height="1" fill="#4a4a4a"/>
<rect x="801" y="15" width="1" height="1" fill="#4a4a4a"/>
<rect x="803" y="15" width="1" height="1" fill="#4a4a4a"/>
<rect x="805" y="15" width="1" height="1" fill="#4a4a4a"/>
<rect x="807" y="15" width="1" height="1" fill="#4a4a4a"/>
<text x="808.5" y="19.5" font-size="6.5" font-weight="bold" fill="#4a4a4a">F</text>
<text x="829.5" y="16" font-size="12" font-weight="bold" fill="#4a4a4a">A</text>
<rect x="856" y="5" width="1" height="1" fill="#4a4a4a"/>
<rect x="856" y="17" width="1" height="1" fill="#4a4a4a"/>
<rect x="858" y="5" width="1" height="1" fill="#4a4a4a"/>
<rect x="858" y="17" width="1" height="1" fill="#4a4a4a"/>
<rect x="860" y="5" width="1" height="1" fill="#4a4a4a"/>
<rect x="860" y="17" width="1" height="1" fill="#4a4a4a"/>
<rect x="862" y="5" width="1" height="1" fill="#4a4a4a"/>
<rect x="862" y="17" width="1" height="1" fill="#4a4a4a"/>
<rect x="864" y="5" width="1" height="1" fill="#4a4a4a"/>
<rect x="864" y="17" width="1" height="1" fill="#4a4a4a"/>
<rect x="866" y="5" width="1" height="1" fill="#4a4a4a"/>
<rect x="866" y="17" width="1" height="1" fill="#4a4a4a"/>
<rect x="856" y="7" width="1" height="1" fill="#4a4a4a"/>
<rect x="867" y="7" width="1" height="1" fill="#4a4a4a"/>
<rect x="856" y="9" width="1" height="1" fill="#4a4a4a"/>
<rect x="867" y="9" width="1" height="1" fill="#4a4a4a"/>
<rect x="856" y="11" width="1" height="1" fill="#4a4a4a"/>
<rect x="867" y="11" width="1" height="1" fill="#4a4a4a"/>
<rect x="856" y="13" width="1" height="1" fill="#4a4a4a"/>
<rect x="867" y="13" width="1" height="1" fill="#4a4a4a"/>
<rect x="856" y="15" width="1" height="1" fill="#4a4a4a"/>
<rect x="867" y="15" width="1" height="1" fill="#4a4a4a"/>
<rect x="855" y="4" width="2" height="1" fill="#4a4a4a"/>
<rect x="858" y="8" width="8" height="1" fill="#4a4a4a"/>
<rect x="861" y="9" width="2" height="7" fill="#4a4a4a"/>
<g shape-rendering="geometricPrecision">
<path d="M883,9 L886.5,5 L890,9 Z M890,13 L897,13 L893.5,17.5 Z" fill="#4a4a4a"/>
<path d="M885,11.5 L887,14 L891.5,9" stroke="#4a4a4a" stroke-width="1.2" fill="none"/>
</g>
<text x="930.6" y="15" font-size="9.3" fill="#303030" textLength="12.4" lengthAdjust="spacingAndGlyphs">M1</text>
<text x="958.4" y="15" font-size="9.3" fill="#303030" textLength="13" lengthAdjust="spacingAndGlyphs">M5</text>
<text x="984.4" y="15" font-size="9.3" fill="#303030" textLength="17.4" lengthAdjust="spacingAndGlyphs">M15</text>
<text x="1012.5" y="15" font-size="9.3" fill="#303030" textLength="17.7" lengthAdjust="spacingAndGlyphs">M30</text>
<text x="1043.2" y="15" font-size="9.3" fill="#303030" textLength="11.8" lengthAdjust="spacingAndGlyphs">H1</text>
<text x="1070.4" y="15" font-size="9.3" fill="#303030" textLength="13" lengthAdjust="spacingAndGlyphs">H4</text>
<text x="1099.3" y="15" font-size="9.3" fill="#303030" textLength="11.9" lengthAdjust="spacingAndGlyphs">D1</text>
<text x="1126.5" y="15" font-size="9.3" fill="#303030" textLength="14.8" lengthAdjust="spacingAndGlyphs">W1</text>
<text x="1153.7" y="15" font-size="9.3" fill="#303030" textLength="14.8" lengthAdjust="spacingAndGlyphs">MN</text>
<g shape-rendering="geometricPrecision">
<circle cx="1646.4" cy="8.3" r="3.8" fill="#f4f6ff" stroke="#2a60d0" stroke-width="1.2"/>
<line x1="1643.5" y1="11.3" x2="1639" y2="15.8" stroke="#2a60d0" stroke-width="2"/>
<path d="M1664,13 q0,-4.5 5,-4.5 h2 q5,0 5,4.5 q0,4 -5,4 h-3 l-2.5,2.5 v-2.8 q-1.5,-1 -1.5,-3.7 z" fill="#e4e6ee" stroke="#8a8a8a" stroke-width="0.8"/>
<circle cx="1677.4" cy="8.5" r="8.2" fill="url(#gred)"/>
</g>
<text x="1673.7" y="12.8" font-size="11" font-weight="bold" fill="#fff" font-family="Liberation Serif, serif">1</text>
</svg>
</body></html>
